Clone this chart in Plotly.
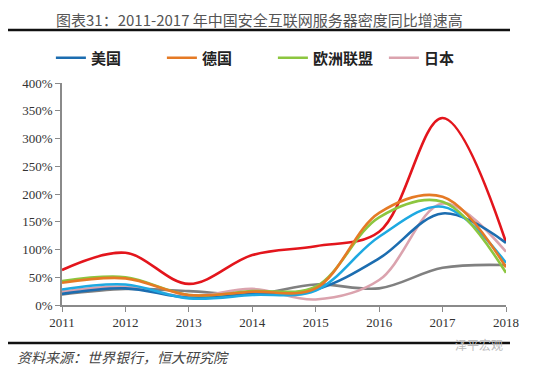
import plotly.graph_objects as go

years = [2011, 2012, 2013, 2014, 2015, 2016, 2017, 2018]
tick_vals = [0, 50, 100, 150, 200, 250, 300, 350, 400]
tick_text = ["0%", "50%", "100%", "150%", "200%", "250%", "300%", "350%", "400%"]

china = [63, 94, 38, 90, 106, 132, 337, 113]
usa = [20, 30, 13, 20, 28, 84, 165, 112]
germany = [40, 48, 18, 24, 30, 166, 195, 68]
eu = [43, 50, 18, 25, 33, 158, 186, 58]
japan = [24, 33, 15, 29, 10, 45, 183, 96]
gray_series = [19, 29, 25, 19, 37, 30, 67, 72]
cyan_series = [28, 37, 12, 18, 26, 123, 177, 76]

series = [
    ("中国", china, "#E3151C", False),
    ("灰", gray_series, "#808080", False),
    ("日本", japan, "#DBA3AE", True),
    ("美国", usa, "#1C6DB0", True),
    ("青", cyan_series, "#1EA9E1", False),
    ("欧洲联盟", eu, "#8CC63F", True),
    ("德国", germany, "#E57A25", True),
]
legend_order = {"美国": 1, "德国": 2, "欧洲联盟": 3, "日本": 4}

fig = go.Figure()
for name, vals, color, show in series:
    fig.add_trace(go.Scatter(
        x=years, y=vals, mode="lines", name=name,
        line=dict(color=color, width=2.6, shape="spline", smoothing=1.0),
        showlegend=show,
        legendrank=legend_order.get(name, 100),
    ))

# The page body has an 8px default margin; the figure is sized to fill the window from there.
H = 222.0
W = 444.0
fig.update_layout(
    width=542, height=361,
    margin=dict(l=54, r=44, t=75, b=64, autoexpand=False),
    paper_bgcolor="white", plot_bgcolor="white",
    font=dict(family="Liberation Serif", size=13, color="#333"),
    legend=dict(orientation="h", x=-0.025, xanchor="left", y=1 + (83 - 58) / H, yanchor="middle",
                font=dict(family="Noto Sans CJK SC", size=15, color="#222", weight="bold"),
                itemwidth=30, tracegroupgap=0, entrywidth=66, bgcolor="rgba(0,0,0,0)"),
    xaxis=dict(range=[2011, 2018], tickvals=years, showgrid=False, zeroline=False,
               showline=True, linecolor="#8a8a8a", linewidth=1.5, automargin=False,
               ticks="outside", ticklen=5, tickcolor="#8a8a8a",
               tickfont=dict(family="Liberation Serif", size=13, color="#333")),
    yaxis=dict(range=[0, 400], tickvals=tick_vals, ticktext=tick_text, showgrid=False,
               zeroline=False, showline=True, linecolor="#8a8a8a", linewidth=1.5, automargin=False,
               ticks="outside", ticklen=5, tickcolor="#8a8a8a",
               tickfont=dict(family="Liberation Serif", size=13, color="#333")),
    annotations=[
        dict(text="图表31：2011-2017 年中国安全互联网服务器密度同比增速高", xref="paper", yref="paper",
             x=(259 - 62) / W, y=1 + (83 - 19) / H, xanchor="center", yanchor="middle",
             showarrow=False, font=dict(family="Noto Sans CJK SC", size=15, color="#555")),
        dict(text="<i>资料来源：世界银行，恒大研究院</i>", xref="paper", yref="paper",
             x=-(62 - 15) / W, y=-(357 - 305) / H, xanchor="left", yanchor="middle",
             showarrow=False, font=dict(family="Noto Sans CJK SC", size=14, color="#444")),
        dict(text="泽平宏观", xref="paper", yref="paper",
             x=(505 - 62) / W, y=-(344 - 305) / H, xanchor="right", yanchor="middle",
             showarrow=False, font=dict(family="Noto Sans CJK SC", size=12, color="#bbb")),
    ],
    shapes=[
        dict(type="line", xref="paper", yref="paper", x0=-(62 - 8) / W, x1=(510 - 62) / W,
             y0=1 + (83 - 30) / H, y1=1 + (83 - 30) / H, line=dict(color="#111", width=2.5)),
        dict(type="line", xref="paper", yref="paper", x0=-(62 - 8) / W, x1=(510 - 62) / W,
             y0=-(343 - 305) / H, y1=-(343 - 305) / H, line=dict(color="#111", width=2.5)),
    ],
)

fig.write_html("out.html")
